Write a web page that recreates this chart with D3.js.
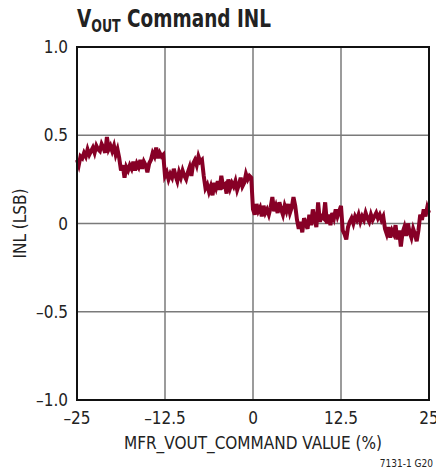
<!DOCTYPE html>
<html><head><meta charset="utf-8">
<script src="https://cdn.jsdelivr.net/npm/d3@7"></script>
<style>
body{margin:0;background:#fff;}
text{font-family:"Liberation Sans Narrow","Arial Narrow","DejaVu Sans Condensed",sans-serif;}
</style></head>
<body><svg id="c" width="436" height="472"></svg>
<script>
const xStart = -25, xStep = 0.25;
const inlValues = [
0.36,0.33,0.38,0.37,0.40,0.38,0.42,0.39,0.41,0.43,
0.40,0.44,0.42,0.41,0.45,0.43,0.40,0.49,0.42,0.44,
0.41,0.44,0.39,0.42,0.37,0.30,0.33,0.26,0.32,0.30,
0.33,0.31,0.35,0.30,0.34,0.32,0.36,0.31,0.35,0.33,
0.29,0.34,0.36,0.40,0.38,0.43,0.37,0.40,0.38,0.39,
0.27,0.29,0.25,0.28,0.26,0.31,0.27,0.24,0.29,0.26,
0.30,0.27,0.25,0.29,0.32,0.27,0.34,0.36,0.33,0.38,
0.35,0.36,0.27,0.20,0.22,0.18,0.21,0.16,0.23,0.20,
0.24,0.19,0.27,0.21,0.22,0.17,0.25,0.20,0.23,0.21,
0.24,0.19,0.22,0.26,0.21,0.23,0.28,0.25,0.27,0.26,
0.08,0.05,0.11,0.07,0.09,0.04,0.10,0.06,0.08,0.05,
0.09,0.15,0.07,0.10,0.06,0.12,0.08,0.05,0.10,0.07,
0.11,0.06,0.09,0.15,0.10,0.02,-0.03,0.01,-0.05,0.03,
0.00,-0.03,0.05,-0.01,0.08,0.02,-0.02,0.12,0.01,0.04,
0.03,0.12,0.00,0.05,-0.01,0.06,0.03,0.08,0.04,0.07,
0.10,-0.04,-0.06,-0.09,-0.02,0.01,0.03,0.00,0.04,0.02,
0.05,0.01,0.04,0.02,0.06,0.03,0.01,0.05,0.02,0.04,
0.06,0.03,0.05,0.02,0.04,-0.03,-0.06,-0.02,-0.08,-0.04,
-0.06,-0.01,-0.09,-0.04,-0.13,-0.05,-0.02,-0.07,0.00,-0.05,
-0.08,-0.03,-0.06,-0.10,-0.04,0.05,0.02,0.08,0.04,0.09,
0.06
];
const xTicks = [-25, -12.5, 0, 12.5, 25];
const xTickLabels = ["–25", "–12.5", "0", "12.5", "25"];
const yTicks = [-1, -0.5, 0, 0.5, 1];
const yTickLabels = ["–1.0", "–0.5", "0", "0.5", "1.0"];

const svg = d3.select("#c");
const L = 77, R = 429, T = 47, B = 400;
const x = d3.scaleLinear().domain([-25, 25]).range([L, R]);
const y = d3.scaleLinear().domain([-1, 1]).range([B, T]);

// grid
const g = svg.append("g");
g.selectAll(".gx").data(xTicks.slice(1, -1)).enter().append("line")
  .attr("x1", d => x(d)).attr("x2", d => x(d)).attr("y1", T).attr("y2", B)
  .attr("stroke", "#7a7a7a").attr("stroke-width", 1.5);
g.selectAll(".gy").data(yTicks.slice(1, -1)).enter().append("line")
  .attr("y1", d => y(d)).attr("y2", d => y(d)).attr("x1", L).attr("x2", R)
  .attr("stroke", "#7a7a7a").attr("stroke-width", 1.5);

// data
const data = inlValues.map((v, i) => ({x: xStart + i * xStep, y: v}));
svg.append("path").datum(data)
  .attr("fill", "none").attr("stroke", "#870026").attr("stroke-width", 4)
  .attr("stroke-linejoin", "miter")
  .attr("d", d3.line().x(d => x(d.x)).y(d => y(d.y)));

// frame
svg.append("rect").attr("x", L).attr("y", T).attr("width", R - L).attr("height", B - T)
  .attr("fill", "none").attr("stroke", "#111").attr("stroke-width", 2);

// tick labels
svg.selectAll(".xl").data(xTicks).enter().append("text")
  .attr("x", d => x(d)).attr("y", 424).attr("text-anchor", "middle")
  .attr("font-size", 17).attr("fill", "#222")
  .text((d, i) => xTickLabels[i]);
svg.selectAll(".yl").data(yTicks).enter().append("text")
  .attr("x", 68).attr("y", d => y(d) + 6).attr("text-anchor", "end")
  .attr("font-size", 17).attr("fill", "#222")
  .text((d, i) => yTickLabels[i]);

// axis titles
svg.append("text").attr("x", 253).attr("y", 449).attr("text-anchor", "middle")
  .attr("font-size", 17).attr("fill", "#222").text("MFR_VOUT_COMMAND VALUE (%)");
svg.append("text").attr("transform", "translate(26," + ((T + B) / 2) + ") rotate(-90)")
  .attr("text-anchor", "middle").attr("font-size", 17).attr("fill", "#222").text("INL (LSB)");

// title (condensed bold)
const title = svg.append("text").attr("transform", "translate(77,27) scale(0.82,1)")
  .attr("x", 0).attr("y", 0)
  .attr("font-size", 25).attr("font-weight", "bold").attr("fill", "#222")
  .style("font-family", "'DejaVu Sans Condensed','Liberation Sans Narrow',sans-serif")
  .style("font-stretch", "condensed");
title.append("tspan").text("V");
title.append("tspan").attr("font-size", 17).attr("dy", 5).text("OUT");
title.append("tspan").attr("dy", -5).text(" Command INL");

// figure id
svg.append("text").attr("x", 433).attr("y", 467).attr("text-anchor", "end")
  .attr("font-size", 10).attr("fill", "#222").text("7131-1 G20");
</script></body></html>
